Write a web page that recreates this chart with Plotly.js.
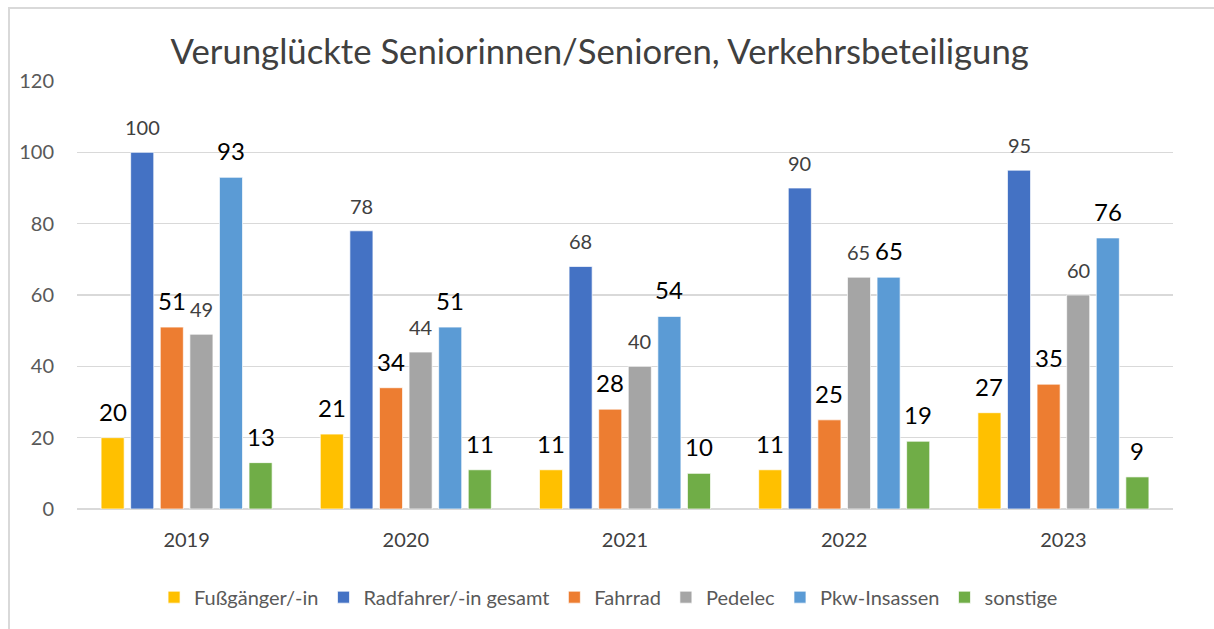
<!DOCTYPE html>
<html>
<head>
<meta charset="utf-8">
<script src="https://cdn.plot.ly/plotly-3.0.1.min.js"></script>
<style>
html,body{margin:0;padding:0;background:#fff;}
#wrap{position:relative;width:1214px;height:629px;overflow:hidden;}
#frame{position:absolute;left:8px;top:7px;width:1220px;height:640px;border-left:2px solid #d9d9d9;border-top:2px solid #d9d9d9;pointer-events:none;z-index:5;}
#chart{width:1214px;height:629px;}
</style>
</head>
<body>
<div id="wrap"><div id="frame"></div><div id="chart"></div></div>
<script>
const years = ['2019', '2020', '2021', '2022', '2023'];
const seriesNames = ['Fußgänger/-in', 'Radfahrer/-in gesamt', 'Fahrrad', 'Pedelec', 'Pkw-Insassen', 'sonstige'];
const fussgaenger = [20, 21, 11, 11, 27];
const radfahrer = [100, 78, 68, 90, 95];
const fahrrad = [51, 34, 28, 25, 35];
const pedelec = [49, 44, 40, 65, 60];
const pkw = [93, 51, 54, 65, 76];
const sonstige = [13, 11, 10, 19, 9];
const yTicks = [0, 20, 40, 60, 80, 100, 120];

const values = [fussgaenger, radfahrer, fahrrad, pedelec, pkw, sonstige];
const colors = ['#FFC000', '#4472C4', '#ED7D31', '#A5A5A5', '#5B9BD5', '#70AD47'];
const labelBig = [true, false, true, false, true, true];
const FONT = 'Lato, "Open Sans", sans-serif';

const W = 1214, H = 629;
const M = {l: 77, r: 41, t: 81, b: 120};
const BARGAP = 0.19, GROUPGAP = 0.22;
const catPx = (W - M.l - M.r) / years.length;
const slotPx = catPx * (1 - BARGAP) / values.length;

const traces = values.map((v, i) => ({
  type: 'bar', name: seriesNames[i], x: years, y: v,
  marker: {color: colors[i], line: {color: 'rgba(255,255,255,0.7)', width: 1}},
  hoverinfo: 'skip'
}));

const annotations = [];
values.forEach((v, i) => {
  v.forEach((val, j) => {
    annotations.push({
      x: j, y: val, xref: 'x', yref: 'y', text: String(val), showarrow: false,
      xanchor: 'center', yanchor: 'bottom',
      xshift: (i - (values.length - 1) / 2) * slotPx,
      yshift: labelBig[i] ? 10 : 11,
      font: labelBig[i] ? {size: 24, color: '#000000', family: FONT} : {size: 20, color: '#404040', family: FONT}
    });
  });
});

const layout = {
  width: W, height: H, autosize: false,
  paper_bgcolor: '#ffffff', plot_bgcolor: '#ffffff',
  margin: {l: M.l, r: M.r, t: M.t, b: M.b, pad: 0},
  font: {family: FONT, color: '#595959', size: 20},
  title: {text: 'Verunglückte Seniorinnen/Senioren, Verkehrsbeteiligung',
    font: {family: FONT, size: 34.7, color: '#404040'},
    x: 0.494, xanchor: 'center', y: 0.917, yanchor: 'middle'},
  barmode: 'group', bargap: BARGAP, bargroupgap: GROUPGAP,
  annotations: annotations,
  xaxis: {type: 'category', range: [-0.5, years.length - 0.5], autorange: false,
    showgrid: false, zeroline: false, showline: false,
    ticks: '', ticklabelstandoff: 17, tickfont: {size: 20, color: '#404040'}},
  yaxis: {range: [0, 120], autorange: false, tickvals: yTicks, showgrid: true, gridcolor: '#d9d9d9', gridwidth: 1.5,
    zeroline: true, zerolinecolor: '#d9d9d9', zerolinewidth: 2, showline: false,
    ticks: '', ticklabelstandoff: 22, tickfont: {size: 20, color: '#595959'}},
  legend: {orientation: 'h', x: 0.485, xanchor: 'center', y: -0.206, yanchor: 'middle',
    font: {size: 20, color: '#595959'}, itemwidth: 30, traceorder: 'normal'},
  showlegend: true
};

Plotly.newPlot('chart', traces, layout, {displayModeBar: false, staticPlot: true});
</script>
</body>
</html>
